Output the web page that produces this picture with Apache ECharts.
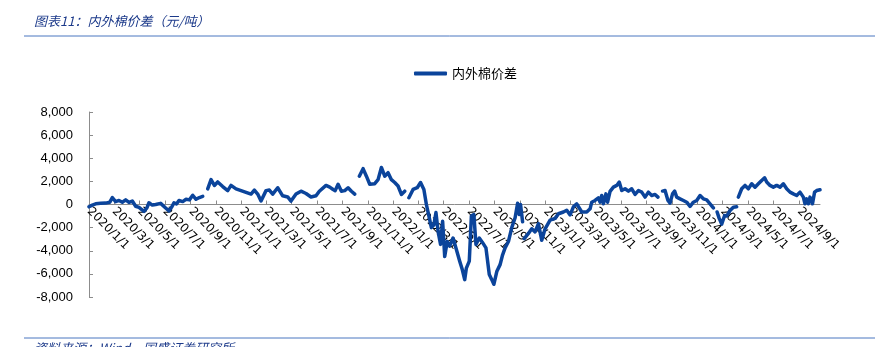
<!DOCTYPE html>
<html>
<head>
<meta charset="utf-8">
<script src="https://cdn.jsdelivr.net/npm/echarts@6/dist/echarts.min.js"></script>
<style>
html,body{margin:0;padding:0;background:#fff;}
#c{width:895px;height:347px;}
</style>
</head>
<body>
<div id="c"></div>
<script>
var seriesName = '内外棉价差';
var titleText = '图表11：内外棉价差（元/吨）';
var sourceText = '资料来源：Wind，国盛证券研究所';

var dates = [
'2020-01-01','2020-01-09','2020-01-17','2020-01-29','2020-02-10','2020-02-20','2020-02-26','2020-03-05','2020-03-13','2020-03-21',
'2020-03-29','2020-04-06','2020-04-14','2020-04-22','2020-04-30','2020-05-12','2020-05-19','2020-05-24','2020-06-01','2020-06-09',
'2020-06-21','2020-07-03','2020-07-11','2020-07-18','2020-07-23','2020-07-29','2020-08-04','2020-08-13','2020-08-21','2020-08-29',
'2020-09-06','2020-09-14','2020-09-22','2020-09-30','2020-10-04','2020-10-12','2020-10-20','2020-10-28','2020-11-05','2020-11-17',
'2020-11-29','2020-12-07','2020-12-19','2020-12-31','2021-01-12','2021-01-24','2021-02-01','2021-02-09','2021-02-17','2021-03-01',
'2021-03-09','2021-03-17','2021-03-29','2021-04-10','2021-04-22','2021-04-30','2021-05-12','2021-05-24','2021-06-05','2021-06-17',
'2021-06-29','2021-07-07','2021-07-23','2021-08-01','2021-08-09','2021-08-14','2021-08-21','2021-08-29','2021-09-06','2021-09-14',
'2021-09-22','2021-09-30','2021-10-04','2021-10-11','2021-10-20','2021-10-28','2021-11-05','2021-11-17','2021-11-25','2021-12-03',
'2021-12-11','2021-12-19','2021-12-27','2022-01-04','2022-01-12','2022-01-20','2022-01-28','2022-02-01','2022-02-07','2022-02-17',
'2022-02-27','2022-03-07','2022-03-15','2022-03-21','2022-03-28','2022-04-02','2022-04-08','2022-04-13','2022-04-18','2022-04-24',
'2022-04-29','2022-05-04','2022-05-10','2022-05-16','2022-05-24','2022-06-01','2022-06-09','2022-06-15','2022-06-21','2022-06-25',
'2022-07-02','2022-07-07','2022-07-13','2022-07-18','2022-07-26','2022-08-03','2022-08-11','2022-08-19','2022-08-25','2022-08-30',
'2022-09-06','2022-09-14','2022-09-20','2022-09-26','2022-10-04','2022-10-12','2022-10-20','2022-10-26','2022-10-30','2022-11-02',
'2022-11-07','2022-11-09','2022-11-11','2022-11-21','2022-11-29','2022-12-07','2022-12-15','2022-12-23','2022-12-31','2023-01-12',
'2023-01-24','2023-02-01','2023-02-13','2023-02-21','2023-03-01','2023-03-09','2023-03-17','2023-03-29','2023-04-10','2023-04-18',
'2023-04-22','2023-04-30','2023-05-08','2023-05-12','2023-05-16','2023-05-20','2023-05-26','2023-05-30','2023-06-05','2023-06-13',
'2023-06-21','2023-06-27','2023-07-03','2023-07-11','2023-07-19','2023-07-27','2023-08-04','2023-08-12','2023-08-20','2023-08-28',
'2023-09-05','2023-09-13','2023-09-21','2023-09-28','2023-10-03','2023-10-09','2023-10-15','2023-10-22','2023-10-27','2023-11-02',
'2023-11-07','2023-11-12','2023-11-20','2023-11-28','2023-12-06','2023-12-14','2023-12-22','2023-12-30','2024-01-07','2024-01-15',
'2024-01-23','2024-01-31','2024-02-08','2024-02-12','2024-02-17','2024-02-22','2024-02-28','2024-03-06','2024-03-11','2024-03-19',
'2024-03-27','2024-04-04','2024-04-06','2024-04-08','2024-04-16','2024-04-24','2024-05-02','2024-05-10','2024-05-18','2024-05-26',
'2024-06-03','2024-06-10','2024-06-15','2024-06-23','2024-07-01','2024-07-09','2024-07-17','2024-07-25','2024-08-02','2024-08-10',
'2024-08-18','2024-08-26','2024-09-03','2024-09-11','2024-09-15','2024-09-19','2024-09-23','2024-09-27','2024-10-03','2024-10-08',
'2024-10-13','2024-10-21'
];

var values = [
-200,-50,60,100,120,200,600,250,350,200,
400,180,300,-150,-250,-600,-300,150,-50,0,
100,-300,-550,-200,150,50,350,250,450,400,
800,450,600,700,null,1350,2150,1650,1950,1550,
1200,1650,1350,1200,1050,900,1250,900,300,1200,
1250,900,1450,750,650,300,900,1150,950,650,
750,1150,1650,1500,1300,1200,1750,1150,1200,1450,
1150,900,null,2450,3100,2450,1750,1800,2150,3200,
2450,2750,2150,1900,1600,870,1150,null,580,1300,
1450,1900,1300,0,-1150,-2000,-1750,-700,-2300,-3450,
-1450,-4500,-3200,-3600,-2900,-3900,-4900,-5600,-6500,-5500,
-4900,-1000,-870,-3450,-2900,-3300,-3750,-6050,-6500,-6900,
-5800,-5200,-4350,-3750,-3200,-2000,-1150,100,-870,0,
-1500,null,-2950,-2500,-2100,-2370,-1650,-3100,-2100,-1350,
-1200,-800,-650,-500,-900,-200,60,-650,-650,-375,
200,350,580,200,780,60,920,200,1130,1500,
1650,1940,1210,1360,1150,1360,870,1210,1070,640,
1070,780,870,640,null,1160,1210,350,120,920,
1160,640,490,350,200,-170,200,350,780,490,
400,60,-290,null,-650,-1200,-1700,-950,-1000,-520,
-230,-200,null,640,1360,1650,1360,1790,1500,1790,
2080,2310,1940,1650,1500,1650,1500,1790,1360,1070,
920,780,1070,640,60,490,60,640,60,1070,
1210,1270
];

var yTicks = [-8000,-6000,-4000,-2000,0,2000,4000,6000,8000];
var xStart = [2020, 1];   // first tick: 2020/1/1
var xTickCount = 29;      // every 2 months to 2024/9/1
var xEnd = '2024-10-21';

function ts(s){ var p = s.split('-'); return new Date(+p[0], +p[1]-1, +p[2]).getTime(); }

var xTickValues = [];
for (var i = 0; i < xTickCount; i++) {
  xTickValues.push(new Date(xStart[0], xStart[1]-1 + i*2, 1).getTime());
}
var data = dates.map(function(d, i){ return [ts(d), values[i]]; });

var gridTop = 112, gridBottom = 50, H = 347;
var zeroOffset = -((H - gridBottom) - gridTop) / 2;

var chart = echarts.init(document.getElementById('c'), null, {renderer:'canvas'});
chart.setOption({
  animation: false,
  backgroundColor: '#fff',
  graphic: [
    {type:'text', left: 34, top: 15, style:{text: titleText, fill:'#1c3a8a', font:'italic 13px "Noto Sans CJK SC"'}},
    {type:'line', shape:{x1:24, y1:36, x2:875, y2:36}, style:{stroke:'#4a76c0', lineWidth:1}},
    {type:'line', shape:{x1:24, y1:338, x2:875, y2:338}, style:{stroke:'#4a76c0', lineWidth:1}},
    {type:'text', left: 34, top: 342, style:{text: sourceText, fill:'#1c3a8a', font:'italic 13px "Noto Sans CJK SC"'}}
  ],
  legend: {
    top: 62, left: 409,
    icon: 'roundRect',
    itemWidth: 33, itemHeight: 4, itemGap: 10,
    textStyle: {color:'#000', fontSize: 13, fontFamily:'"Noto Sans CJK SC"'},
    data: [seriesName]
  },
  grid: {left: 89, right: 75, top: gridTop, bottom: gridBottom, containLabel: false, outerBoundsMode: 'none'},
  xAxis: {
    type: 'value',
    min: ts(dates[0]),
    max: ts(xEnd),
    offset: zeroOffset,
    axisLine: {onZero: false, lineStyle:{color:'#8c8c8c', width:1}},
    axisTick: {show:true, inside:true, length:4, customValues: xTickValues, lineStyle:{color:'#8c8c8c'}},
    axisLabel: {
      customValues: xTickValues,
      rotate: -45,
      margin: 5,
      color: '#000',
      fontSize: 12,
      fontFamily: '"DejaVu Sans"',
      formatter: function(v){ var d = new Date(v); return d.getFullYear() + '/' + (d.getMonth()+1) + '/1'; }
    },
    splitLine: {show:false}
  },
  yAxis: {
    type: 'value',
    min: -8000, max: 8000, interval: 2000,
    axisLine: {show:true, onZero:false, lineStyle:{color:'#8c8c8c', width:1}},
    axisTick: {show:true, inside:true, length:4, lineStyle:{color:'#8c8c8c'}},
    axisLabel: {
      color:'#000', fontSize: 13, fontFamily:'"Liberation Sans"', margin: 16,
      formatter: function(v){ return v.toLocaleString('en-US'); }
    },
    splitLine: {show:false}
  },
  series: [{
    name: seriesName,
    type: 'line',
    z: 5,
    data: data,
    showSymbol: false,
    connectNulls: false,
    lineStyle: {color:'#0b449b', width: 3.5, cap:'round', join:'round'},
    itemStyle: {color:'#0b449b'}
  }]
});
</script>
</body>
</html>
